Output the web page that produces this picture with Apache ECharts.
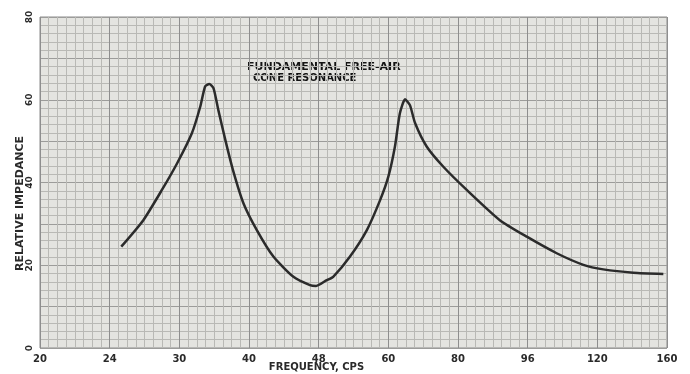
<!DOCTYPE html>
<html>
<head>
<meta charset="utf-8">
<script src="https://cdn.jsdelivr.net/npm/echarts@6/dist/echarts.min.js"></script>
<style>html,body{margin:0;padding:0;background:#fff}#c{width:690px;height:374px}</style>
</head>
<body>
<div id="c"></div>
<script>
// Tick labels printed along the frequency axis (cps)
const TICK_LABELS = [20, 24, 30, 40, 48, 60, 80, 96, 120, 160];
const Y_TICKS = [0, 20, 40, 60, 80];
// Curve
const FREQUENCY = [25.0, 26.9, 28.5, 29.8, 31.8, 33.0, 33.7, 34.3, 34.9, 35.6, 36.6, 37.7, 39.2, 40.9, 42.8, 45.1, 47.0, 47.7, 49.4, 50.5, 53.4, 56.3, 58.6, 60.0, 61.9, 63.3, 64.8, 66.2, 67.7, 71.0, 75.8, 82.0, 89.6, 95.8, 106.0, 115.2, 123.4, 140.6, 157.9];
const IMPEDANCE = [24.5, 30.9, 38.2, 44.6, 51.9, 58.3, 63.2, 63.8, 62.8, 57.5, 50.3, 43.0, 35.0, 28.5, 22.1, 17.2, 15.2, 15.0, 16.4, 17.2, 22.1, 28.5, 35.8, 41.4, 48.7, 56.7, 60.1, 58.7, 54.3, 48.7, 43.8, 38.2, 30.9, 26.9, 22.9, 20.1, 19.0, 18.2, 17.9];
const ANNOTATION = ['FUNDAMENTAL FREE-AIR', 'CONE RESONANCE'];

// The printed frequency labels are equally spaced: map a frequency to its label slot.
function toSlot(f) {
  for (let i = 0; i < TICK_LABELS.length - 1; i++) {
    const a = TICK_LABELS[i], b = TICK_LABELS[i + 1];
    if (f <= b || i === TICK_LABELS.length - 2) return i + (f - a) / (b - a);
  }
}
const data = FREQUENCY.map((f, i) => [toSlot(f), IMPEDANCE[i]]);

const FONT = 'DejaVu Sans';
const chart = echarts.init(document.getElementById('c'), null, {renderer: 'canvas'});
chart.setOption({
  animation: false,
  backgroundColor: '#ffffff',
  grid: {left: 40, right: 23, top: 17, bottom: 26, outerBoundsMode: 'none', containLabel: false,
         show: true, backgroundColor: '#e4e4e0', borderColor: '#8c8c8c', borderWidth: 1},
  xAxis: {
    type: 'value', min: 0, max: TICK_LABELS.length - 1, interval: 1,
    name: 'FREQUENCY, CPS', nameLocation: 'middle', nameGap: 14, nameMoveOverlap: false,
    nameTextStyle: {fontFamily: FONT, fontSize: 10, fontWeight: 'bold', color: '#2a2a2a', padding: [0, 74, 0, 0]},
    axisLine: {show: false}, axisTick: {show: false},
    axisLabel: {formatter: v => String(TICK_LABELS[v]), fontFamily: FONT, fontSize: 10, fontWeight: 'bold', color: '#2a2a2a', margin: 6},
    splitLine: {show: true, lineStyle: {color: '#8e8e8e', width: 1}},
    minorSplitLine: {show: true, lineStyle: {color: '#b9b9b5', width: 1}},
    minorTick: {show: false, splitNumber: 8}
  },
  yAxis: [{
    type: 'value', min: 0, max: 80, interval: 20,
    name: 'RELATIVE IMPEDANCE', nameLocation: 'middle', nameGap: 14, nameMoveOverlap: false,
    nameTextStyle: {fontFamily: FONT, fontSize: 11, fontWeight: 'bold', color: '#2a2a2a', padding: [0, 42, 0, 0]},
    axisLine: {show: false}, axisTick: {show: false},
    axisLabel: {formatter: v => Y_TICKS.includes(v) ? String(v) : '', rotate: 90, fontFamily: FONT, fontSize: 9, fontWeight: 'bold', color: '#2a2a2a', margin: 6},
    splitLine: {show: true, lineStyle: {color: '#7e7e7e', width: 1.2}},
    minorSplitLine: {show: true, lineStyle: {color: '#b9b9b5', width: 1}},
    minorTick: {show: false, splitNumber: 10}
  }, {
    type: 'value', min: 0, max: 80, interval: 10, position: 'left',
    axisLine: {show: false}, axisTick: {show: false}, axisLabel: {show: false},
    splitLine: {show: true, lineStyle: {color: '#9c9c9a', width: 1}}
  }],
  graphic: [
    {type: 'text', left: 247, top: 62, style: {text: ANNOTATION[0], font: 'bold 11px "DejaVu Sans"', fill: '#141414'}},
    {type: 'text', left: 253, top: 73, style: {text: ANNOTATION[1], font: 'bold 10px "DejaVu Sans"', fill: '#141414'}}
  ],
  series: [{
    type: 'line', data: data, yAxisIndex: 0, smooth: 0.2, symbol: 'none',
    lineStyle: {color: '#2b2b2b', width: 2.5}, z: 5
  }]
});
</script>
</body>
</html>
